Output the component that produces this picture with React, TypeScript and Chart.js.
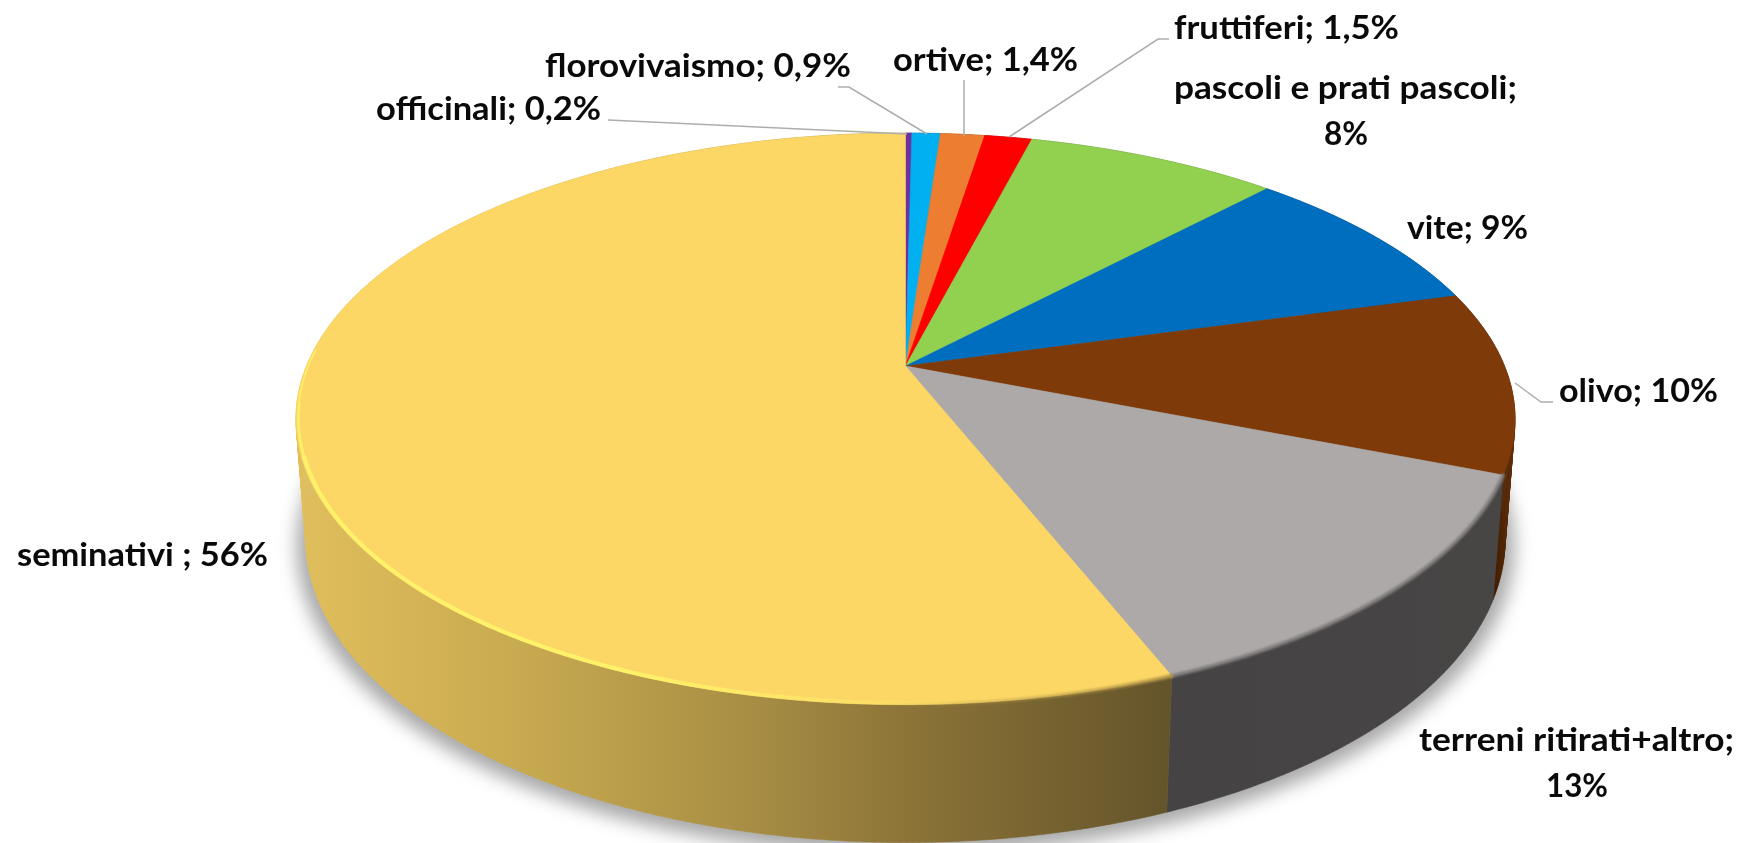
import React, { useEffect, useRef } from "react";
import { Chart, registerables } from "chart.js";

Chart.register(...registerables);

const categories = [
  "officinali",
  "florovivaismo",
  "ortive",
  "fruttiferi",
  "pascoli e prati pascoli",
  "vite",
  "olivo",
  "terreni ritirati+altro",
  "seminativi ",
];
const shares = [0.2, 0.9, 1.4, 1.5, 8, 8.7, 10.3, 13, 56];
const shareText = ["0,2%", "0,9%", "1,4%", "1,5%", "8%", "9%", "10%", "13%", "56%"];
const faceColors = ["#7030A0", "#00B0F0", "#ED7D31", "#FF0000", "#92D050", "#006EBE", "#7F3A0A", "#ADA9A8", "#FCD766"];
const sideColors = ["#3c1a56", "#005f82", "#80441b", "#8a0000", "#4f7029", "#003b66", "#4A2206", "#454343", "#B59A45"];

// Label placement: [left, baseline, width] per line
const labelBoxes: number[][][] = [
  [[376, 120, 225]],
  [[545, 77, 306]],
  [[893, 71, 185]],
  [[1174, 39, 225]],
  [[1174, 99, 343], [1324, 145, 44]],
  [[1407, 239, 121]],
  [[1559, 402, 159]],
  [[1419, 751, 315], [1546, 797, 62]],
  [[17, 566, 251]],
];
const leaders: number[][][] = [
  [[608, 120], [907, 134]],
  [[838, 87], [849, 87], [927, 134]],
  [[964, 80], [964, 136]],
  [[1169, 39], [1158, 39], [1009, 137]],
  [[1515, 383], [1541, 402], [1553, 402]],
];

// Perspective of the pie disc
const AX = 905.5, AY = 366, R = 599, S = 276, K = 0.185, T = 120, M = 0.016;
const project = (theta: number, level: number, r = 1) => {
  const u = Math.sin(theta) * r;
  const v = Math.cos(theta) * r;
  const w = 1 + K * v + M * level;
  return { x: AX + (R * u) / w, y: AY + (-S * v + T * level) / w };
};
const STEP = Math.PI / 360;
const thetaRange = (arc: any) => {
  const a = arc.startAngle + Math.PI / 2;
  const b = arc.endAngle + Math.PI / 2;
  const list: number[] = [];
  for (let t = a; t < b; t += STEP) list.push(t);
  list.push(b);
  return list;
};
const strokeRim = (ctx: CanvasRenderingContext2D, list: number[], r = 1) => {
  ctx.beginPath();
  list.forEach((t, i) => {
    const p = project(t, 0, r);
    if (i) ctx.lineTo(p.x, p.y);
    else ctx.moveTo(p.x, p.y);
  });
  ctx.stroke();
};

const pie3d = {
  id: "pie3d",
  beforeDatasetsDraw(chart: any) {
    const ctx: CanvasRenderingContext2D = chart.ctx;
    const arcs = chart.getDatasetMeta(0).data;
    ctx.save();

    // soft shadow under the disc
    ctx.save();
    ctx.filter = "blur(9px)";
    ctx.fillStyle = "#a8a8a8";
    ctx.beginPath();
    for (let t = 0; t < Math.PI * 2; t += STEP) {
      const p = project(t, 1, 1.015);
      if (t === 0) ctx.moveTo(p.x, p.y + 5);
      else ctx.lineTo(p.x, p.y + 5);
    }
    ctx.closePath();
    ctx.fill();
    ctx.restore();

    // side walls
    arcs.forEach((arc: any, i: number) => {
      const list = thetaRange(arc);
      let paint: any = sideColors[i];
      if (i === 8) {
        const g = ctx.createLinearGradient(300, 0, 1170, 0);
        g.addColorStop(0, "#E0BE5C");
        g.addColorStop(0.25, "#C8AA50");
        g.addColorStop(0.5, "#AA9045");
        g.addColorStop(0.7, "#8C7438");
        g.addColorStop(1, "#64542A");
        paint = g;
      } else if (i === 7) {
        const g = ctx.createLinearGradient(1170, 0, 1500, 0);
        g.addColorStop(0, "#454344");
        g.addColorStop(1, "#484545");
        paint = g;
      } else if (i === 6) {
        const g = ctx.createLinearGradient(1490, 0, 1520, 0);
        g.addColorStop(0, "#3a1a04");
        g.addColorStop(1, "#6a3208");
        paint = g;
      }
      ctx.fillStyle = paint;
      ctx.strokeStyle = paint;
      ctx.lineWidth = 0.5;
      ctx.beginPath();
      for (let n = 0; n + 1 < list.length; n++) {
        const a = project(list[n], 0);
        const b = project(list[n + 1], 0);
        const c = project(list[n + 1], 1);
        const d = project(list[n], 1);
        ctx.moveTo(a.x, a.y);
        ctx.lineTo(b.x, b.y);
        ctx.lineTo(c.x, c.y);
        ctx.lineTo(d.x, d.y);
        ctx.closePath();
      }
      ctx.fill();
      ctx.stroke();
    });

    // top faces
    arcs.forEach((arc: any, i: number) => {
      ctx.fillStyle = faceColors[i];
      ctx.strokeStyle = faceColors[i];
      ctx.lineWidth = 0.6;
      ctx.beginPath();
      ctx.moveTo(AX, AY);
      thetaRange(arc).forEach((t) => {
        const p = project(t, 0);
        ctx.lineTo(p.x, p.y);
      });
      ctx.closePath();
      ctx.fill();
      ctx.stroke();
    });

    // rim bevels
    const yellow = thetaRange(arcs[8]);
    const gray = thetaRange(arcs[7]);
    ctx.lineCap = "round";
    ctx.save();
    ctx.filter = "blur(1.2px)";
    ctx.lineWidth = 3.5;
    ctx.strokeStyle = "#7E7A7A";
    strokeRim(ctx, gray);
    const dim = ctx.createLinearGradient(880, 0, 1170, 0);
    dim.addColorStop(0, "rgba(176,148,70,0)");
    dim.addColorStop(1, "rgba(176,148,70,1)");
    ctx.strokeStyle = dim;
    strokeRim(ctx, yellow.filter((t) => t < Math.PI * 1.05));
    ctx.restore();

    const glow = ctx.createLinearGradient(620, 0, 980, 0);
    glow.addColorStop(0, "rgba(255,242,105,1)");
    glow.addColorStop(1, "rgba(255,242,105,0)");
    ctx.save();
    ctx.filter = "blur(0.6px)";
    ctx.strokeStyle = glow;
    ctx.lineWidth = 4;
    strokeRim(ctx, yellow.filter((t) => t > Math.PI * 0.95 && t < Math.PI * 1.4), 0.996);
    ctx.lineWidth = 2.5;
    strokeRim(ctx, yellow.filter((t) => t >= Math.PI * 1.39 && t < Math.PI * 1.46), 0.996);
    ctx.lineWidth = 1.5;
    strokeRim(ctx, yellow.filter((t) => t >= Math.PI * 1.45 && t < Math.PI * 1.52), 0.997);
    ctx.restore();

    ctx.restore();
    return false;
  },
  afterDraw(chart: any) {
    const ctx: CanvasRenderingContext2D = chart.ctx;
    ctx.save();
    ctx.strokeStyle = "#ADADAD";
    ctx.lineWidth = 1.5;
    leaders.forEach((pts) => {
      ctx.beginPath();
      pts.forEach(([x, y], i) => (i ? ctx.lineTo(x, y) : ctx.moveTo(x, y)));
      ctx.stroke();
    });
    ctx.fillStyle = "#0a0a0a";
    ctx.textAlign = "left";
    ctx.textBaseline = "alphabetic";
    ctx.font = "700 32px Lato";
    categories.forEach((name, i) => {
      const boxes = labelBoxes[i];
      const lines = boxes.length === 2 ? [`${name};`, shareText[i]] : [`${name}; ${shareText[i]}`];
      lines.forEach((line, n) => {
        const [x, y, w] = boxes[n];
        const natural = ctx.measureText(line).width;
        ctx.save();
        ctx.translate(x, y);
        ctx.scale(w / natural, 1);
        ctx.fillText(line, 0, 0);
        ctx.restore();
      });
    });
    ctx.restore();
  },
};

export default function App() {
  const ref = useRef<HTMLCanvasElement>(null);
  useEffect(() => {
    const chart = new Chart(ref.current as HTMLCanvasElement, {
      type: "pie",
      data: {
        labels: categories,
        datasets: [{ data: shares, backgroundColor: faceColors, borderWidth: 0 }],
      },
      options: {
        responsive: false,
        animation: false,
        plugins: { legend: { display: false }, tooltip: { enabled: false } },
      },
      plugins: [pie3d as any],
    });
    return () => chart.destroy();
  }, []);
  return (
    <div style={{ position: "fixed", left: 0, top: 0, width: 1741, height: 843, background: "#fff" }}>
      <canvas ref={ref} width={1741} height={843} style={{ display: "block", filter: "blur(0.5px)" }} />
    </div>
  );
}
